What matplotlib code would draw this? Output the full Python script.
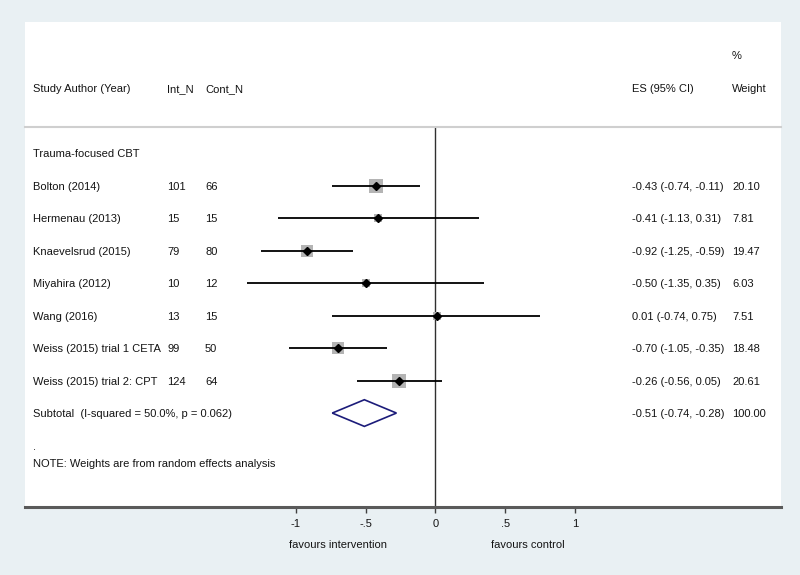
import matplotlib
matplotlib.use("Agg")
import matplotlib.pyplot as plt
from matplotlib.patches import Rectangle, Polygon
import matplotlib.transforms as mtransforms

plt.rcParams['font.family'] = ['Liberation Sans', 'DejaVu Sans']

# study data
studies = ["Bolton (2014)", "Hermenau (2013)", "Knaevelsrud (2015)", "Miyahira (2012)",
           "Wang (2016)", "Weiss (2015) trial 1 CETA", "Weiss (2015) trial 2: CPT"]
int_n = [101, 15, 79, 10, 13, 99, 124]
cont_n = [66, 15, 80, 12, 15, 50, 64]
es = [-0.43, -0.41, -0.92, -0.50, 0.01, -0.70, -0.26]
lo = [-0.74, -1.13, -1.25, -1.35, -0.74, -1.05, -0.56]
hi = [-0.11, 0.31, -0.59, 0.35, 0.75, -0.35, 0.05]
weights = [20.10, 7.81, 19.47, 6.03, 7.51, 18.48, 20.61]

group_label = "Trauma-focused CBT"
sub_label = "Subtotal  (I-squared = 50.0%, p = 0.062)"
sub_es, sub_lo, sub_hi, sub_w = -0.51, -0.74, -0.28, 100.00
note = "NOTE: Weights are from random effects analysis"

xticks = [-1, -0.5, 0, 0.5, 1]
xtick_labels = ["-1", "-.5", "0", ".5", "1"]

W, H = 800, 575
fig = plt.figure(figsize=(8, 5.75), dpi=100, facecolor='#e9f0f3')

# white panel
fig.patches.append(Rectangle((25 / W, 1 - 507 / H), 756 / W, 485 / H,
                             transform=fig.transFigure, facecolor='white',
                             edgecolor='none', zorder=-5))

ax = fig.add_axes([25 / W, 1 - 507 / H, 756 / W, 380 / H])
ax.set_zorder(2)
ax.set_facecolor('none')
ax.set_xlim((25 - 435.5) / 139.5, (781 - 435.5) / 139.5)
ax.set_ylim(10.89, -0.8)

txt = '#141414'
fs = 8

# baseline sits ~4px below the row centre
shift = mtransforms.ScaledTranslation(0, -4 / 100, fig.dpi_scale_trans)

# x in figure pixels, y in row units
tr = mtransforms.blended_transform_factory(
    mtransforms.Affine2D().scale(1 / W, 1) + fig.transFigure, ax.transData) + shift

def row_text(x, y, s):
    ax.text(x, y, s, transform=tr, fontsize=fs, color=txt, va='baseline', ha='left',
            clip_on=False)

# header
def hdr(x, py, s, ha='left'):
    fig.text(x / W, 1 - py / H, s, fontsize=fs, color=txt, va='baseline', ha=ha,
             transform=fig.transFigure + shift)

hdr(33, 88, "Study Author (Year)")
hdr(167, 88, "Int_N")
hdr(205, 88, "Cont_N")
hdr(632, 88, "ES (95% CI)")
hdr(732, 88, "Weight")
hdr(732, 55, "%")

ax.axvline(0, color='#303030', lw=1, zorder=1)

row_text(33, 0, group_label)

for i, name in enumerate(studies):
    y = i + 1
    ax.plot([lo[i], hi[i]], [y, y], color='black', lw=1.3, zorder=2, solid_capstyle='butt')
    ax.plot(es[i], y, marker='s', markersize=2.1 * weights[i] ** 0.5,
            color='#b4b4b4', markeredgewidth=0, zorder=1.5)
    ax.plot(es[i], y, marker='D', markersize=4.2, color='black', zorder=3)
    row_text(33, y, name)
    row_text(167, y, str(int_n[i]))
    row_text(205, y, str(cont_n[i]))
    row_text(632, y, f"{es[i]:.2f} ({lo[i]:.2f}, {hi[i]:.2f})")
    row_text(732, y, f"{weights[i]:.2f}")

ys = len(studies) + 1
h = 0.41
ax.add_patch(Polygon([(sub_lo, ys), (sub_es, ys - h), (sub_hi, ys), (sub_es, ys + h)],
                     closed=True, facecolor='none', edgecolor='#1c1c7a', lw=1.2, zorder=3))
row_text(33, ys, sub_label)
row_text(632, ys, f"{sub_es:.2f} ({sub_lo:.2f}, {sub_hi:.2f})")
row_text(732, ys, f"{sub_w:.2f}")

row_text(33, ys + 1.0, ".")
row_text(33, ys + 1.55, note)

# axes styling
for s in ['left', 'right']:
    ax.spines[s].set_visible(False)
ax.spines['top'].set_color('#cfcfcf')
ax.spines['top'].set_linewidth(1.5)
ax.spines['bottom'].set_color('#5a5a5a')
ax.spines['bottom'].set_linewidth(2.2)
ax.set_yticks([])
ax.set_xticks(xticks)
ax.set_xticklabels(xtick_labels)
ax.tick_params(axis='x', direction='out', length=4.5, width=1, color='#404040',
               labelsize=fs, labelcolor=txt, pad=4)

hdr(337.7, 544, "favours intervention", ha='center')
hdr(528, 544, "favours control", ha='center')

fig.savefig("out.png", dpi=100, facecolor=fig.get_facecolor())
